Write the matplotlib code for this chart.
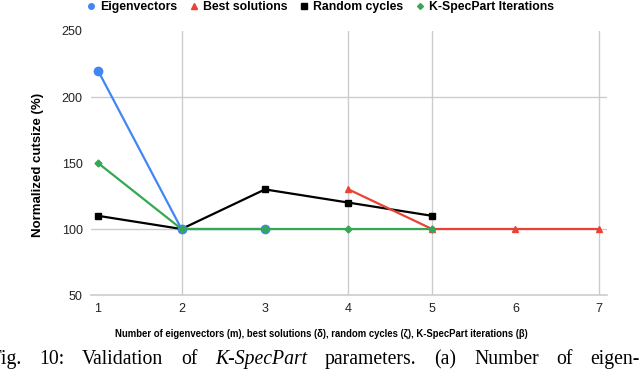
import matplotlib
matplotlib.use("Agg")
import matplotlib.pyplot as plt
from matplotlib.lines import Line2D

eig_x = [1, 2, 3]
eig_y = [220, 100, 100]
best_x = [4, 5, 6, 7]
best_y = [130, 100, 100, 100]
rand_x = [1, 2, 3, 4, 5]
rand_y = [110, 100, 130, 120, 110]
ksp_x = [1, 2, 3, 4, 5]
ksp_y = [150, 100, 100, 100, 100]
xticks = [1, 2, 3, 4, 5, 6, 7]
yticks = [50, 100, 150, 200, 250]

BLUE, RED, BLACK, GREEN = "#4285F4", "#EA4335", "#000000", "#34A853"
GRID = "#cccccc"
SANS = "Liberation Sans"

fig = plt.figure(figsize=(6.4, 3.69), dpi=100)
ax = fig.add_axes([0.1422, 0.2005, 0.9484 - 0.1422, 0.916 - 0.2005])

ax.plot(rand_x, rand_y, color=BLACK, lw=1.6, marker="s", ms=5, zorder=3)
ax.plot(best_x, best_y, color=RED, lw=1.6, marker="^", ms=5, zorder=4)
ax.plot(eig_x, eig_y, color=BLUE, lw=1.6, marker="o", ms=6, zorder=4)
ax.plot(ksp_x, ksp_y, color=GREEN, lw=1.6, marker="D", ms=3.5, zorder=5)

ax.set_xlim(0.916, 7.096)
ax.set_ylim(50, 250)
ax.set_xticks(xticks)
ax.set_yticks(yticks)
ax.tick_params(length=0, labelsize=9, colors="#222222", pad=6)
for lab in ax.get_xticklabels() + ax.get_yticklabels():
    lab.set_fontfamily(SANS)
for s in ax.spines.values():
    s.set_visible(False)
ax.spines["bottom"].set_visible(True)
ax.spines["bottom"].set_color(GRID)
ax.spines["bottom"].set_linewidth(1.2)

ax.grid(True, color=GRID, lw=1.0, zorder=0)
ax.set_axisbelow(True)
fig.canvas.draw()
for i, gl in enumerate(ax.xaxis.get_gridlines()):
    if xticks[i] in (1, 3, 6):
        gl.set_visible(False)
for i, gl in enumerate(ax.yaxis.get_gridlines()):
    if yticks[i] in (50, 150, 250):
        gl.set_visible(False)

fig.text(38 / 640, 1 - 165 / 369, "Normalized cutsize (%)", rotation=90, ha="center", va="center",
         fontsize=9.5, fontweight="bold", family=SANS)
fig.text(321 / 640, 1 - 334 / 369, "Number of eigenvectors (m), best solutions (δ), random cycles (ζ), K-SpecPart iterations (β)",
         ha="center", va="center", fontsize=6.85, fontweight="bold", family=SANS)

handles = [
    Line2D([], [], color=BLUE, marker="o", ls="none", ms=4),
    Line2D([], [], color=RED, marker="^", ls="none", ms=4),
    Line2D([], [], color=BLACK, marker="s", ls="none", ms=4),
    Line2D([], [], color=GREEN, marker="D", ls="none", ms=3),
]
labels = ["Eigenvectors", "Best solutions", "Random cycles", "K-SpecPart Iterations"]
fig.legend(handles, labels, loc="center", bbox_to_anchor=(320 / 640, 1 - 7 / 369), ncol=4, frameon=False,
           prop={"family": SANS, "weight": "bold", "size": 8.8}, handlelength=0.8, handletextpad=0.3,
           columnspacing=1.0, borderaxespad=0)

# caption (justified line, cut at both edges like the reference)
fig.canvas.draw()
r = fig.canvas.get_renderer()
base_y = 1 - 364 / 369
words = [("Fig.", "normal"), ("10:", "normal"), ("Validation", "normal"), ("of", "normal"),
         ("K-SpecPart", "italic"), ("parameters.", "normal"), ("(a)", "normal"), ("Number", "normal"),
         ("of", "normal"), ("eigen-", "normal")]
fs = 14.2
objs = []
widths = []
for w, st in words:
    t = fig.text(0, base_y, w, ha="left", va="baseline", fontsize=fs, family="Liberation Serif", style=st)
    objs.append(t)
    widths.append(t.get_window_extent(renderer=r).width)
fw = fig.text(0, base_y, "F", fontsize=fs, family="Liberation Serif")
f_w = fw.get_window_extent(renderer=r).width
fw.remove()
start = -f_w + 1
end = 640
gap = (end - start - sum(widths)) / (len(words) - 1)
x = start
for t, wd in zip(objs, widths):
    t.set_x(x / 640)
    x += wd + gap

fig.savefig("out.png", dpi=100)
